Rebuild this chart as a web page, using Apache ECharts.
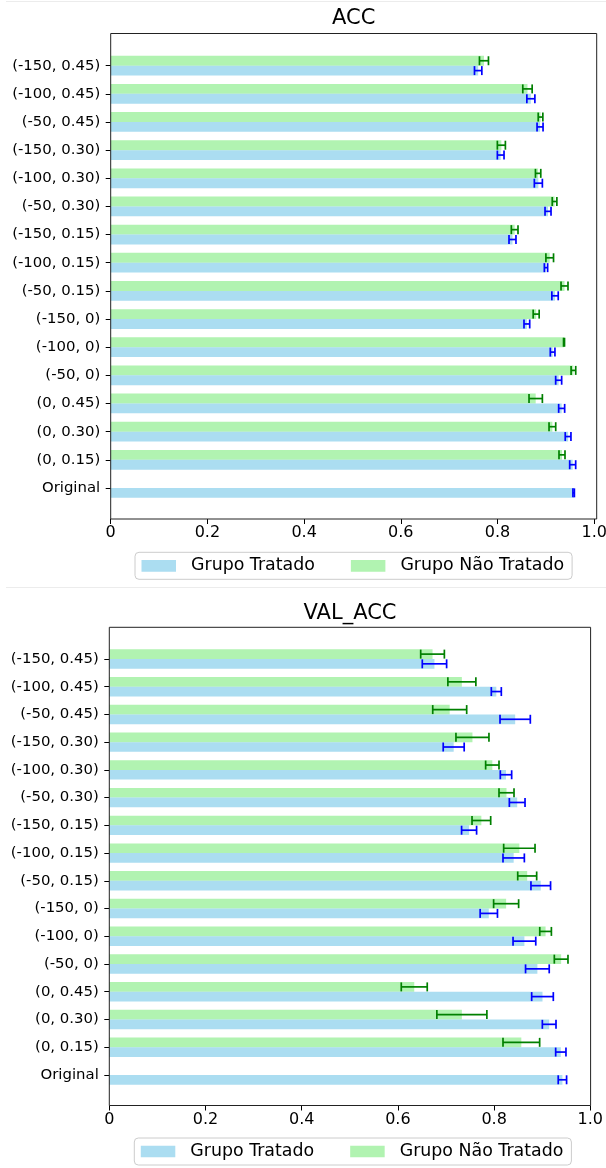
<!DOCTYPE html>
<html><head><meta charset="utf-8">
<script src="https://cdn.jsdelivr.net/npm/echarts@6/dist/echarts.min.js"></script>
<style>html,body{margin:0;padding:0;background:#fff}#c{width:606px;height:1168px}</style>
</head><body><div id="c"></div>
<script>
// categories, bottom to top
const categories = ['Original','(0, 0.15)','(0, 0.30)','(0, 0.45)','(-50, 0)','(-100, 0)','(-150, 0)',
  '(-50, 0.15)','(-100, 0.15)','(-150, 0.15)','(-50, 0.30)','(-100, 0.30)','(-150, 0.30)',
  '(-50, 0.45)','(-100, 0.45)','(-150, 0.45)'];
const xTicks = [0, 0.2, 0.4, 0.6, 0.8, 1.0];
const seriesNames = ['Grupo Tratado', 'Grupo Não Tratado'];
const chartTitles = ['ACC', 'VAL_ACC'];

const accTratado    = [0.9575,0.9555,0.946,0.9327,0.9265,0.914,0.8607,0.919,0.9003,0.831,0.9045,0.8845,0.8066,0.888,0.869,0.760];
const accTratadoErr = [0.0015,0.0062,0.0059,0.0062,0.0062,0.0048,0.0059,0.0066,0.0034,0.0072,0.0062,0.0083,0.0069,0.0062,0.0083,0.0076];
const accNao         = [null,0.9334,0.9135,0.879,0.957,0.9376,0.880,0.9386,0.908,0.8355,0.918,0.884,0.808,0.889,0.862,0.772];
const accNaoErr      = [null,0.0062,0.0069,0.0138,0.0048,0.001,0.0062,0.0072,0.0079,0.0069,0.0048,0.0055,0.0083,0.0048,0.0097,0.0093];

const valTratado    = [0.942,0.9387,0.9145,0.9006,0.890,0.863,0.789,0.897,0.8407,0.748,0.848,0.8247,0.716,0.8438,0.8046,0.676];
const valTratadoErr = [0.0087,0.0107,0.0142,0.0225,0.0246,0.0236,0.018,0.0204,0.0222,0.0156,0.0163,0.0118,0.0218,0.0315,0.0104,0.0253];
const valNao         = [null,0.8566,0.733,0.634,0.9394,0.907,0.825,0.8688,0.8525,0.7735,0.8258,0.7963,0.755,0.7077,0.733,0.672];
const valNaoErr      = [null,0.0381,0.052,0.027,0.0142,0.0121,0.026,0.0197,0.0326,0.0194,0.0156,0.0139,0.0343,0.0353,0.0291,0.0246];

const FONT = 'DejaVu Sans';
const BLUE = 'rgba(135,206,235,0.7)';
const GREEN = 'rgba(144,238,144,0.7)';
const EBLUE = '#0000ff';
const EGREEN = '#008000';

// layout per panel
const panels = [
  {grid:{left:110.7, right:11.8, top:51.6, height:450.4}, xOffset:17, frame:[110.7,33.5,486,485.5], title:[353.7,18.7], legendTop:552.3, legendLeft:135,
   t:accTratado, te:accTratadoErr, n:accNao, ne:accNaoErr},
  {grid:{left:109.3, right:15.7, top:645.1, height:443.7}, xOffset:16.7, frame:[109.3,627.3,481.3,478.2], title:[350,613.8], legendTop:1138, legendLeft:134.3,
   t:valTratado, te:valTratadoErr, n:valNao, ne:valNaoErr}
];

// side: +1 => below category center (pixel down), -1 => above
const SIDE_T = 1, SIDE_N = -1;

function errRender(side, color) {
  return function (params, api) {
    const m = api.value(0), i = api.value(1), e = api.value(2);
    const band = api.size([0, 1])[1];
    const c = api.coord([m, i]);
    const y = c[1] + side * 0.175 * band;
    const xl = api.coord([m - e, i])[0], xr = api.coord([m + e, i])[0];
    const cap = 4.5;
    const st = {stroke: color, lineWidth: 1.7};
    return {type: 'group', children: [
      {type: 'line', shape: {x1: xl, y1: y, x2: xr, y2: y}, style: st},
      {type: 'line', shape: {x1: xl, y1: y - cap, x2: xl, y2: y + cap}, style: st},
      {type: 'line', shape: {x1: xr, y1: y - cap, x2: xr, y2: y + cap}, style: st}
    ]};
  };
}
function errData(vals, errs) {
  const out = [];
  vals.forEach((v, i) => { if (v != null) out.push([v, i, errs[i]]); });
  return out;
}

const grids = [], xAxes = [], yAxes = [], series = [], legends = [], graphics = [];
panels.forEach((p, k) => {
  grids.push(Object.assign({outerBoundsMode: 'none', containLabel: false}, p.grid));
  xAxes.push({type: 'value', gridIndex: k, min: 0, max: 1, interval: 0.2, offset: p.xOffset,
    axisLine: {show: false}, splitLine: {show: false},
    axisTick: {show: true, length: 5, lineStyle: {color: '#000', width: 1}},
    axisLabel: {margin: 6, color: '#000', fontFamily: FONT, fontSize: 16,
      formatter: v => (v === 0 ? '0' : v.toFixed(1))}});
  yAxes.push({type: 'category', gridIndex: k, data: categories,
    axisLine: {show: false}, splitLine: {show: false},
    axisTick: {show: true, alignWithLabel: true, length: 5, lineStyle: {color: '#000', width: 1}},
    axisLabel: {margin: 10.5, color: '#000', fontFamily: FONT, fontSize: 14.9}});
  // Não Tratado first so it sits above the tick, Tratado below
  series.push({type: 'bar', name: seriesNames[1], xAxisIndex: k, yAxisIndex: k, data: p.n,
    barWidth: '35%', barGap: '0%', itemStyle: {color: GREEN}, silent: true});
  series.push({type: 'bar', name: seriesNames[0], xAxisIndex: k, yAxisIndex: k, data: p.t,
    barWidth: '35%', barGap: '0%', itemStyle: {color: BLUE}, silent: true});
  series.push({type: 'custom', name: 'errT' + k, xAxisIndex: k, yAxisIndex: k, z: 5, silent: true,
    encode: {x: 0, y: 1}, data: errData(p.t, p.te), renderItem: errRender(SIDE_T, EBLUE)});
  series.push({type: 'custom', name: 'errN' + k, xAxisIndex: k, yAxisIndex: k, z: 5, silent: true,
    encode: {x: 0, y: 1}, data: errData(p.n, p.ne), renderItem: errRender(SIDE_N, EGREEN)});
  legends.push({data: seriesNames, left: p.legendLeft, top: p.legendTop, orient: 'horizontal',
    icon: 'rect', itemWidth: 34.5, itemHeight: 11.7, itemGap: 36,
    padding: [5, 8, 5, 6.5], borderColor: '#cccccc', borderWidth: 1, borderRadius: 4, backgroundColor: '#fff',
    selectedMode: false,
    textStyle: {fontFamily: FONT, fontSize: 17.4, color: '#000', padding: [0, 0, 0, 10]}});
  graphics.push({type: 'rect', z: 100, silent: true,
    shape: {x: p.frame[0], y: p.frame[1], width: p.frame[2], height: p.frame[3]},
    style: {fill: 'none', stroke: '#222', lineWidth: 1}});
  graphics.push({type: 'text', z: 100, silent: true, x: p.title[0], y: p.title[1],
    style: {text: chartTitles[k], align: 'center', verticalAlign: 'middle', fontFamily: FONT, fontSize: 21, fill: '#000'}});
});
graphics.push({type: 'line', silent: true, shape: {x1: 6, y1: 1.5, x2: 606, y2: 1.5}, style: {stroke: '#ececec', lineWidth: 1}});
graphics.push({type: 'line', silent: true, shape: {x1: 6, y1: 587.5, x2: 606, y2: 587.5}, style: {stroke: '#ececec', lineWidth: 1}});

const chart = echarts.init(document.getElementById('c'), null, {renderer: 'canvas'});
chart.setOption({
  animation: false,
  backgroundColor: '#fff',
  grid: grids, xAxis: xAxes, yAxis: yAxes, series: series, legend: legends, graphic: graphics
});
</script>
</body></html>
